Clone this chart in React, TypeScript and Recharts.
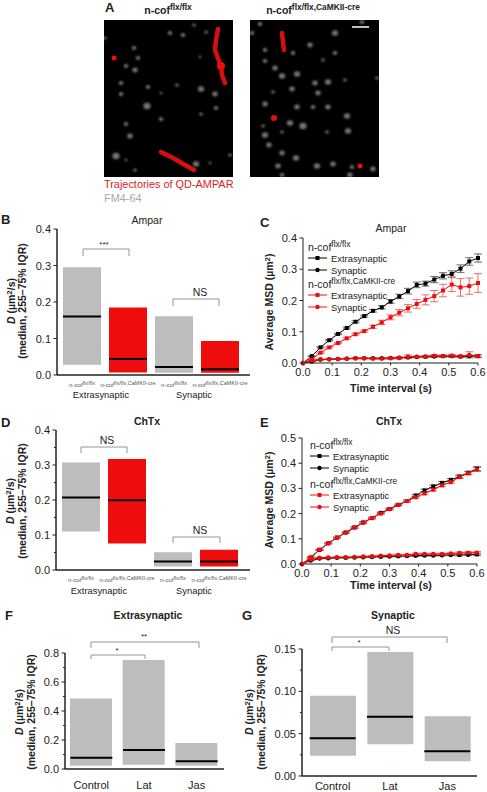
import { Bar, Cell, ComposedChart, ErrorBar, Line, LineChart, Scatter, ScatterChart, XAxis, YAxis } from "recharts"

const FONT = "'Liberation Sans', Arial, sans-serif"
const INK = "#222"
const RED = "#ee0c0c"
const GREY = "#bdbdbd"

// panel A: spots and tracks, in image pixels
const leftSpots = [[66,13,2.5],[79,15,2.5],[90,5,2],[102,12,2],[30,28,2.5],[34,38,2.5],[22,46,2.5],[31,50,3],[17,63,2.5],[17,74,2.5],[44,67,2.5],[73,65,2],[97,69,3.5],[111,74,3],[57,73,1.5],[43,86,4],[112,88,2.5],[97,94,2],[57,99,2.5],[22,104,2.5],[26,116,3],[12,136,4],[92,144,3.5],[106,143,1.5],[31,150,2],[22,140,1.5],[96,37,1.5],[126,135,2],[1,18,2]]
const rightSpots = [[10,4,2.5],[2,13,2.5],[85,13,3.5],[60,25,3],[15,30,2.5],[43,33,2.5],[85,33,2.5],[15,41,2.5],[25,48,3],[47,54,3.5],[73,40,2],[32,56,3.5],[65,63,3],[78,62,3.5],[42,69,3],[23,72,2],[68,73,3],[15,84,3],[47,87,3],[78,87,3],[63,87,2.5],[97,96,3.5],[40,103,3.5],[53,106,4],[13,106,2],[15,115,3.5],[32,112,2],[98,111,3.5],[77,112,2],[19,125,3],[32,133,3],[46,138,3.5],[28,146,3],[67,146,3.5],[83,144,3],[102,147,2.5],[123,149,3],[100,155,3],[32,155,2.5],[112,2,2.5],[127,58,2],[95,60,2]]
const leftTrackA = [[114,9],[112,20],[111,30],[114,38],[117,47],[118,55],[121,63]]
const leftTrackB = [[57,132],[69,138],[81,145],[90,150]]
const rightTrack = [[32,13],[33,22],[34,30]]
const leftRedDots = [[10,38,2.5],[117,46,4]]
const rightRedDots = [[24,98,3],[110,146,2.5]]
const scaleBar = [[102,7],[119,7]]

// panels B and D
const genotypes = ["n-cof|flx/flx", "n-cof|flx/flx,CaMKII-cre", "n-cof|flx/flx", "n-cof|flx/flx,CaMKII-cre"]
const genotypeColors = [GREY, RED, GREY, RED]
const bLow = [0.028, 0.007, 0.006, 0.006]
const bHigh = [0.295, 0.185, 0.161, 0.093]
const bMedian = [0.16, 0.044, 0.022, 0.016]
const dLow = [0.11, 0.076, 0.01, 0.01]
const dHigh = [0.307, 0.317, 0.051, 0.058]
const dMedian = [0.207, 0.199, 0.024, 0.024]
const ticks04 = [0, 0.1, 0.2, 0.3, 0.4]
const ticks04Minor = [0, 0.05, 0.1, 0.15, 0.2, 0.25, 0.3, 0.35, 0.4]

// panels F and G
const drugs = ["Control", "Lat", "Jas"]
const drugColors = [GREY, GREY, GREY]
const fLow = [0.023, 0.03, 0.023]
const fHigh = [0.487, 0.752, 0.179]
const fMedian = [0.078, 0.131, 0.053]
const gLow = [0.024, 0.0375, 0.0174]
const gHigh = [0.0947, 0.1465, 0.0707]
const gMedian = [0.0446, 0.07, 0.0292]
const fTicks = [0, 0.2, 0.4, 0.6, 0.8]
const fTicksMinor = [0, 0.1, 0.2, 0.3, 0.4, 0.5, 0.6, 0.7, 0.8]
const gTicks = [0, 0.05, 0.1, 0.15]
const gTicksMinor = [0, 0.025, 0.05, 0.075, 0.1, 0.125, 0.15]

// panels C and E
const times = [0, 0.03, 0.06, 0.09, 0.12, 0.15, 0.18, 0.21, 0.24, 0.27, 0.3, 0.33, 0.36, 0.39, 0.42, 0.45, 0.48, 0.51, 0.54, 0.57, 0.6]
const timeTicks = [0, 0.1, 0.2, 0.3, 0.4, 0.5, 0.6]
const cBlackExtra = [0, 0.022, 0.05, 0.073, 0.093, 0.112, 0.132, 0.15, 0.167, 0.178, 0.197, 0.213, 0.23, 0.25, 0.254, 0.267, 0.279, 0.285, 0.302, 0.325, 0.336]
const cBlackExtraErr = [0, 0.001, 0.002, 0.002, 0.002, 0.003, 0.003, 0.003, 0.004, 0.005, 0.006, 0.007, 0.009, 0.009, 0.008, 0.01, 0.01, 0.01, 0.012, 0.012, 0.013]
const cRedExtra = [0, 0.012, 0.033, 0.05, 0.064, 0.079, 0.092, 0.102, 0.116, 0.13, 0.146, 0.161, 0.175, 0.189, 0.202, 0.214, 0.232, 0.251, 0.242, 0.246, 0.256]
const cRedExtraErr = [0, 0.001, 0.002, 0.002, 0.002, 0.003, 0.003, 0.003, 0.005, 0.007, 0.008, 0.01, 0.012, 0.014, 0.016, 0.018, 0.02, 0.022, 0.028, 0.026, 0.03]
const cBlackSyn = [0, 0.005, 0.011, 0.012, 0.013, 0.014, 0.015, 0.015, 0.015, 0.015, 0.016, 0.017, 0.018, 0.019, 0.02, 0.021, 0.022, 0.022, 0.021, 0.022, 0.022]
const cBlackSynErr = [0, 0.001, 0.001, 0.001, 0.001, 0.001, 0.001, 0.001, 0.002, 0.002, 0.002, 0.002, 0.002, 0.002, 0.003, 0.003, 0.003, 0.003, 0.003, 0.003, 0.004]
const cRedSyn = [0, 0.008, 0.011, 0.012, 0.013, 0.014, 0.015, 0.015, 0.014, 0.014, 0.015, 0.016, 0.02, 0.02, 0.021, 0.023, 0.022, 0.023, 0.021, 0.026, 0.022]
const cRedSynErr = [0, 0.001, 0.001, 0.001, 0.001, 0.001, 0.002, 0.002, 0.002, 0.002, 0.003, 0.003, 0.006, 0.003, 0.003, 0.004, 0.004, 0.005, 0.004, 0.01, 0.005]
const eBlackExtra = [0, 0.025, 0.056, 0.082, 0.105, 0.125, 0.145, 0.165, 0.182, 0.203, 0.218, 0.235, 0.25, 0.272, 0.292, 0.308, 0.322, 0.334, 0.347, 0.362, 0.378]
const eRedExtra = [0, 0.027, 0.057, 0.082, 0.104, 0.125, 0.145, 0.164, 0.183, 0.2, 0.218, 0.234, 0.25, 0.265, 0.28, 0.295, 0.312, 0.325, 0.345, 0.36, 0.375]
const eBlackSyn = [0, 0.014, 0.022, 0.023, 0.025, 0.025, 0.026, 0.027, 0.028, 0.029, 0.03, 0.031, 0.032, 0.033, 0.034, 0.034, 0.035, 0.036, 0.036, 0.037, 0.038]
const eRedSyn = [0, 0.018, 0.025, 0.026, 0.027, 0.027, 0.028, 0.03, 0.031, 0.033, 0.034, 0.036, 0.036, 0.04, 0.04, 0.04, 0.04, 0.042, 0.044, 0.045, 0.045]
const eExtraErr = [0, 0.002, 0.002, 0.002, 0.002, 0.002, 0.003, 0.003, 0.003, 0.003, 0.003, 0.003, 0.004, 0.004, 0.005, 0.005, 0.005, 0.005, 0.006, 0.006, 0.008]
const eSynErr = [0, 0.001, 0.002, 0.002, 0.002, 0.002, 0.002, 0.002, 0.002, 0.002, 0.002, 0.003, 0.003, 0.003, 0.003, 0.003, 0.003, 0.003, 0.004, 0.004, 0.005]

const toPoints = (rows: number[][]) => rows.map(([x, y, r]) => ({ x, y, r }))

function YTick({ x, y, payload, labelled, digits }: any) {
  const major = labelled.some((t: number) => Math.abs(t - payload.value) < 1e-9)
  return (
    <g>
      <line x1={x - (major ? 3.5 : 2)} x2={x} y1={y} y2={y} stroke={INK} strokeWidth={1} />
      {major && (
        <text x={x - 6} y={y + 4} textAnchor="end" fontSize={11} fontFamily={FONT} fill={INK}>
          {payload.value.toFixed(digits)}
        </text>
      )}
    </g>
  )
}

function GenotypeTick({ x, y, payload }: any) {
  const [name, sup] = payload.value.split("|")
  return (
    <text x={x} y={y + 12} textAnchor="middle" fontSize={6} fontFamily={FONT} fill="#555">
      {name}
      <tspan dy={-2} fontSize={5.5}>{sup}</tspan>
    </text>
  )
}

const drugTick = (dy: number) => ({ x, y, payload }: any) => (
  <text x={x} y={y + dy} textAnchor="middle" fontSize={11} fontFamily={FONT} fill={INK}>
    {payload.value}
  </text>
)

function TimeTick({ x, y, payload }: any) {
  return (
    <g>
      <line x1={x} x2={x} y1={y} y2={y + 2.5} stroke={INK} strokeWidth={1} />
      <text x={x} y={y + 13} textAnchor="middle" fontSize={11} fontFamily={FONT} fill={INK}>
        {payload.value.toFixed(1)}
      </text>
    </g>
  )
}

// one floating-bar panel: low/high as the bar, median as a flat tick across it
function RangePanel({ box, axisX, top, xHeight, pad, barSize, cats, colors, low, high, median, max, ticks, labelled, digits, tick }: any) {
  const rows = cats.map((cat: string, i: number) => ({ cat, key: i, iqr: [low[i], high[i]], median: median[i] }))
  return (
    <div style={{ position: "absolute", left: box[0], top: box[1] }}>
      <ComposedChart width={box[2]} height={box[3]} data={rows} margin={{ left: 0, right: 0, top, bottom: 0 }}>
        <XAxis dataKey="key" tickFormatter={(i: number) => cats[i]} interval={0} height={xHeight} padding={pad} tickLine={false} tickSize={0} tickMargin={0} axisLine={{ stroke: INK, strokeWidth: 1.5 }} tick={(p: any) => tick({ ...p, payload: { ...p.payload, value: cats[p.payload.value] } })} />
        <YAxis width={axisX - box[0]} domain={[0, max]} ticks={ticks} interval={0} allowDataOverflow tickLine={false} tickSize={0} tickMargin={0} axisLine={{ stroke: INK, strokeWidth: 1.5 }} tick={(p: any) => <YTick {...p} labelled={labelled} digits={digits} />} />
        <Bar dataKey="iqr" barSize={barSize} isAnimationActive={false}>
          {rows.map((r: any, i: number) => (
            <Cell key={r.key} fill={colors[i]} />
          ))}
        </Bar>
        <Line
          dataKey="median"
          stroke="none"
          isAnimationActive={false}
          dot={(p: any) => <line key={p.index} x1={p.cx - barSize / 2} x2={p.cx + barSize / 2} y1={p.cy} y2={p.cy} stroke="#000" strokeWidth={2} />}
        />
      </ComposedChart>
    </div>
  )
}

const squareDot = (color: string) => (p: any) => <rect key={p.index} x={p.cx - 2} y={p.cy - 2} width={4} height={4} fill={color} />
const roundDot = (color: string) => (p: any) => <circle key={p.index} cx={p.cx} cy={p.cy} r={2.2} fill={color} />

function MsdPanel({ box, axisX, top, xHeight, width, max, ticks, series }: any) {
  const rows = times.map((t, i) => {
    const row: any = { t }
    series.forEach((s: any) => {
      row[s.name] = s.values[i]
      row[s.name + "Err"] = s.errors[i]
    })
    return row
  })
  return (
    <div style={{ position: "absolute", left: box[0], top: box[1] }}>
      <LineChart width={box[2]} height={box[3]} data={rows} margin={{ left: 0, right: box[2] - (axisX - box[0]) - width, top, bottom: 0 }}>
        <XAxis type="number" dataKey="t" domain={[0, 0.6]} ticks={timeTicks} interval={0} height={xHeight} tickLine={false} tickSize={0} tickMargin={0} axisLine={{ stroke: INK, strokeWidth: 1 }} tick={TimeTick} />
        <YAxis width={axisX - box[0]} domain={[0, max]} ticks={ticks} interval={0} tickLine={false} tickSize={0} tickMargin={0} axisLine={{ stroke: INK, strokeWidth: 1 }} tick={(p: any) => <YTick {...p} labelled={ticks} digits={1} />} />
        {series.map((s: any) => (
          <Line key={s.name} dataKey={s.name} stroke={s.color} strokeWidth={1} isAnimationActive={false} dot={s.square ? squareDot(s.color) : roundDot(s.color)}>
            <ErrorBar dataKey={s.name + "Err"} direction="y" width={4} strokeWidth={0.8} stroke={s.color === RED ? "#e8494b" : "#444"} isAnimationActive={false} />
          </Line>
        ))}
      </LineChart>
    </div>
  )
}

function Micrograph({ left, spots, tracks, dots, bar }: any) {
  return (
    <div style={{ position: "absolute", left, top: 20, background: "#000", width: 129, height: 157, overflow: "hidden" }}>
      <ScatterChart width={129} height={157} margin={{ left: 0, right: 0, top: 0, bottom: 0 }}>
        <XAxis type="number" dataKey="x" domain={[0, 129]} hide />
        <YAxis type="number" dataKey="y" domain={[0, 157]} reversed hide />
        <Scatter data={toPoints(spots)} isAnimationActive={false} shape={(p: any) => <ellipse cx={p.cx} cy={p.cy} rx={p.payload.r * 0.9} ry={p.payload.r * 0.8} fill="#747474" style={{ filter: "blur(1px)" }} />} />
        {tracks.map((t: number[][], i: number) => (
          <Scatter key={i} data={toPoints(t)} isAnimationActive={false} line={{ stroke: "#d80f0f", strokeWidth: 4.5, strokeLinecap: "round" }} shape={() => <g />} />
        ))}
        <Scatter data={toPoints(dots)} isAnimationActive={false} shape={(p: any) => <circle cx={p.cx} cy={p.cy} r={p.payload.r} fill="#ee0c0c" style={{ filter: "blur(0.6px)" }} />} />
        {bar && <Scatter data={toPoints(bar)} isAnimationActive={false} line={{ stroke: "#fff", strokeWidth: 1.5 }} shape={() => <g />} />}
      </ScatterChart>
    </div>
  )
}

function Sup({ x, y, size = 11, base, sup, weight, anchor, fill = INK }: any) {
  return (
    <text x={x} y={y} fontSize={size} fontFamily={FONT} fontWeight={weight} textAnchor={anchor} fill={fill}>
      {base}
      <tspan dy={-size * 0.35} fontSize={size * 0.8}>{sup}</tspan>
    </text>
  )
}

function Label({ x, y, children, size = 11, weight, anchor = "middle", fill = INK }: any) {
  return (
    <text x={x} y={y} fontSize={size} fontFamily={FONT} fontWeight={weight} textAnchor={anchor} fill={fill}>
      {children}
    </text>
  )
}

function Bracket({ x1, x2, top, bottom }: any) {
  return <path d={`M${x1} ${bottom}V${top}H${x2}V${bottom}`} fill="none" stroke="#888" strokeWidth={0.9} />
}

function DLabel({ x1, x2, cy }: any) {
  return (
    <>
      <text transform={`translate(${x1} ${cy}) rotate(-90)`} textAnchor="middle" fontSize={10.5} fontWeight="bold" fontFamily={FONT} fill={INK}>
        <tspan fontStyle="italic">D</tspan>
        {"  (µm"}
        <tspan dy={-3.5} fontSize={8}>2</tspan>
        <tspan dy={3.5}>/s)</tspan>
      </text>
      <text transform={`translate(${x2} ${cy}) rotate(-90)`} textAnchor="middle" fontSize={10.5} fontWeight="bold" fontFamily={FONT} fill={INK}>
        (median, 255–75% IQR)
      </text>
    </>
  )
}

function MsdLabel({ x, cy }: any) {
  return (
    <text transform={`translate(${x} ${cy}) rotate(-90)`} textAnchor="middle" fontSize={10.5} fontWeight="bold" fontFamily={FONT} fill={INK}>
      Average MSD (µm
      <tspan dy={-3.5} fontSize={8}>2</tspan>
      <tspan dy={3.5}>)</tspan>
    </text>
  )
}

function LegendKey({ x, textX, y, color, square, label }: any) {
  return (
    <>
      <line x1={x} x2={x + 19} y1={y} y2={y} stroke={color} strokeWidth={1} />
      {square ? <rect x={x + 7.5} y={y - 2} width={4} height={4} fill={color} /> : <circle cx={x + 9.5} cy={y} r={2.2} fill={color} />}
      <Label x={textX} y={y + 3.5} anchor="start" size={9.4}>{label}</Label>
    </>
  )
}

function MsdLegend({ x, textX, yTop, gap }: any) {
  return (
    <>
      <Sup x={x} y={yTop} base="n-cof" sup="flx/flx" size={10.5} />
      <LegendKey x={x} textX={textX} y={yTop + 7} color="#000" square label="Extrasynaptic" />
      <LegendKey x={x} textX={textX} y={yTop + 19} color="#000" label="Synaptic" />
      <Sup x={x} y={yTop + gap} base="n-cof" sup="flx/flx,CaMKII-cre" size={10.5} />
      <LegendKey x={x} textX={textX} y={yTop + gap + 7} color={RED} square label="Extrasynaptic" />
      <LegendKey x={x} textX={textX} y={yTop + gap + 19} color={RED} label="Synaptic" />
    </>
  )
}

const cSeries = [
  { name: "blackExtra", values: cBlackExtra, errors: cBlackExtraErr, color: "#000", square: true },
  { name: "blackSyn", values: cBlackSyn, errors: cBlackSynErr, color: "#000" },
  { name: "redExtra", values: cRedExtra, errors: cRedExtraErr, color: RED, square: true },
  { name: "redSyn", values: cRedSyn, errors: cRedSynErr, color: RED },
]
const eSeries = [
  { name: "blackExtra", values: eBlackExtra, errors: eExtraErr, color: "#000", square: true },
  { name: "blackSyn", values: eBlackSyn, errors: eSynErr, color: "#000" },
  { name: "redExtra", values: eRedExtra, errors: eExtraErr, color: RED, square: true },
  { name: "redSyn", values: eRedSyn, errors: eSynErr, color: RED },
]

export default function App() {
  return (
    <div style={{ position: "absolute", left: 0, top: 0, width: 487, height: 792, background: "#fff", overflow: "hidden" }}>
      <Micrograph left={104} spots={leftSpots} tracks={[leftTrackA, leftTrackB]} dots={leftRedDots} />
      <Micrograph left={250} spots={rightSpots} tracks={[rightTrack]} dots={rightRedDots} bar={scaleBar} />

      <RangePanel box={[0, 210, 250, 190]} axisX={57} top={19} xHeight={25} pad={{ left: 2, right: 7 }} barSize={38} cats={genotypes} colors={genotypeColors} low={bLow} high={bHigh} median={bMedian} max={0.4} ticks={ticks04} labelled={ticks04} digits={1} tick={GenotypeTick} />
      <RangePanel box={[0, 405, 250, 190]} axisX={56} top={25} xHeight={25} pad={{ left: 2, right: 8 }} barSize={38} cats={genotypes} colors={genotypeColors} low={dLow} high={dHigh} median={dMedian} max={0.4} ticks={ticks04Minor} labelled={ticks04} digits={1} tick={GenotypeTick} />
      <RangePanel box={[0, 600, 224, 192]} axisX={65} top={53} xHeight={23} pad={{ left: 0, right: 1 }} barSize={42} cats={drugs} colors={drugColors} low={fLow} high={fHigh} median={fMedian} max={0.8} ticks={fTicksMinor} labelled={fTicks} digits={1} tick={drugTick(20)} />
      <RangePanel box={[243, 600, 234, 192]} axisX={302} top={49} xHeight={16} pad={{ left: 2, right: 1 }} barSize={46} cats={drugs} colors={drugColors} low={gLow} high={gHigh} median={gMedian} max={0.15} ticks={gTicksMinor} labelled={gTicks} digits={2} tick={drugTick(14)} />

      <MsdPanel box={[245, 210, 242, 190]} axisX={303} top={28} xHeight={37} width={175} max={0.4} ticks={ticks04} series={cSeries} />
      <MsdPanel box={[245, 405, 242, 190]} axisX={302} top={33} xHeight={31} width={175} max={0.5} ticks={[0, 0.1, 0.2, 0.3, 0.4, 0.5]} series={eSeries} />

      <svg width={487} height={792} style={{ position: "absolute", left: 0, top: 0, pointerEvents: "none" }}>
        {/* panel letters */}
        <Label x={105} y={12} size={13} weight="bold" anchor="start">A</Label>
        <Label x={1} y={224} size={13} weight="bold" anchor="start">B</Label>
        <Label x={260} y={227} size={13} weight="bold" anchor="start">C</Label>
        <Label x={1} y={427} size={13} weight="bold" anchor="start">D</Label>
        <Label x={260} y={427} size={13} weight="bold" anchor="start">E</Label>
        <Label x={5} y={620} size={13} weight="bold" anchor="start">F</Label>
        <Label x={242} y={620} size={13} weight="bold" anchor="start">G</Label>

        {/* panel A captions */}
        <Sup x={168} y={14} base="n-cof" sup="flx/flx" size={10.5} weight="bold" anchor="middle" />
        <Sup x={313} y={14} base="n-cof" sup="flx/flx,CaMKII-cre" size={10.5} weight="bold" anchor="middle" />
        <Label x={104} y={188} anchor="start" fill="#d81e1e" size={10.9}>Trajectories of QD-AMPAR</Label>
        <Label x={104} y={202} anchor="start" fill="#a8a8a8" size={10.9}>FM4-64</Label>

        {/* titles */}
        <Label x={147} y={224} size={10.5}>Ampar</Label>
        <Label x={391} y={232} size={10.5}>Ampar</Label>
        <Label x={147} y={425} size={10.5} weight="bold">ChTx</Label>
        <Label x={389} y={425} size={10.5} weight="bold">ChTx</Label>
        <Label x={148} y={619} size={10.5} weight="bold">Extrasynaptic</Label>
        <Label x={393} y={619} size={10.5} weight="bold">Synaptic</Label>

        {/* axis labels */}
        <DLabel x1={15} x2={26} cy={301} />
        <DLabel x1={14} x2={26} cy={501} />
        <DLabel x1={23} x2={35} cy={712} />
        <DLabel x1={253} x2={265} cy={712} />
        <MsdLabel x={273} cy={302} />
        <MsdLabel x={273} cy={500} />
        <Label x={391} y={392} size={10.7} weight="bold">Time interval (s)</Label>
        <Label x={391} y={589} size={10.7} weight="bold">Time interval (s)</Label>

        {/* group labels */}
        <Label x={101} y={398} size={9.4}>Extrasynaptic</Label>
        <Label x={194} y={398} size={9.4}>Synaptic</Label>
        <Label x={99} y={594} size={9.4}>Extrasynaptic</Label>
        <Label x={194} y={594} size={9.4}>Synaptic</Label>

        {/* significance brackets */}
        <Bracket x1={83} x2={129} top={249} bottom={256} />
        <Label x={104} y={247} size={8}>***</Label>
        <Bracket x1={173} x2={219} top={299} bottom={306} />
        <Label x={200} y={296} size={10.5}>NS</Label>
        <Bracket x1={81} x2={127} top={447} bottom={453} />
        <Label x={107} y={444} size={10.5}>NS</Label>
        <Bracket x1={173} x2={220} top={537} bottom={543} />
        <Label x={200} y={534} size={10.5}>NS</Label>
        <Bracket x1={91} x2={199} top={642} bottom={648} />
        <Label x={144} y={639} size={8}>**</Label>
        <Bracket x1={91} x2={145} top={655} bottom={659} />
        <Label x={117} y={653} size={8}>*</Label>
        <Bracket x1={332} x2={447} top={637} bottom={643} />
        <Label x={393} y={634} size={10.5}>NS</Label>
        <Bracket x1={332} x2={389} top={647} bottom={651} />
        <Label x={359} y={645} size={8}>*</Label>

        <MsdLegend x={308} textX={331} yTop={251} gap={37} />
        <MsdLegend x={310} textX={333} yTop={449} gap={39} />
      </svg>
    </div>
  )
}
